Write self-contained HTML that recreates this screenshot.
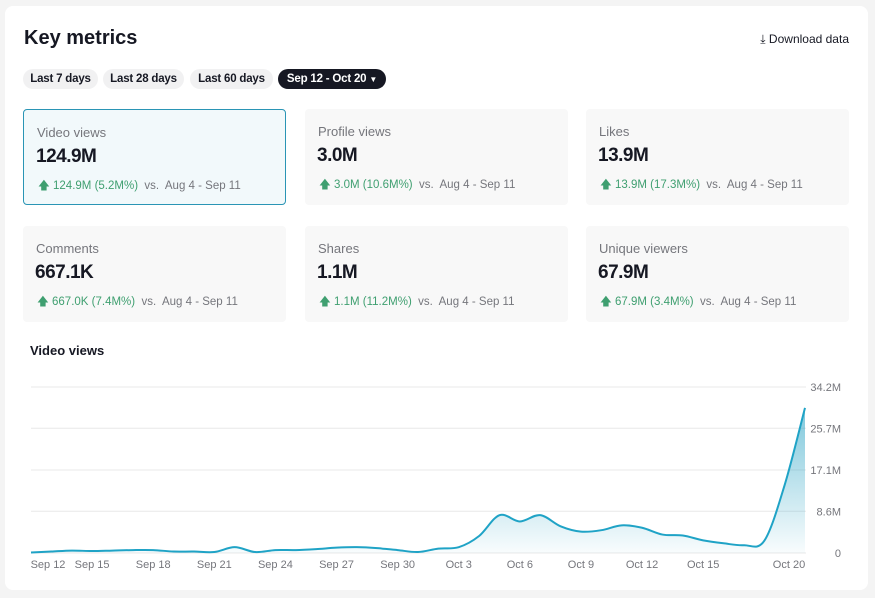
<!DOCTYPE html>
<html><head><meta charset="utf-8"><style>
body{margin:0;background:#f4f4f4;font-family:"Liberation Sans",sans-serif;width:875px;height:598px;overflow:hidden;position:relative}
.main{position:absolute;left:5px;top:6px;width:863px;height:584px;background:#fff;border-radius:8px}
h1{position:absolute;left:24px;top:27px;margin:0;font-size:20px;font-weight:bold;color:#161823}
.dl{position:absolute;right:26px;top:32px;font-size:12px;color:#161823}
.pill{position:absolute;top:69px;height:20px;line-height:20px;border-radius:10px;background:#f1f1f2;font-size:11.5px;font-weight:bold;color:#161823;text-align:center;letter-spacing:-0.2px}
.card{position:absolute;width:263px;height:96px;background:#f8f8f8;border-radius:4px;box-sizing:border-box}
.card.sel{background:#f2f9fb;border:1px solid #2a95b5}
.lab{position:absolute;left:13px;top:15px;font-size:13px;color:#75767c}
.val{position:absolute;left:12px;top:36px;font-size:19px;font-weight:bold;color:#161823;letter-spacing:-0.5px}
.chg{position:absolute;left:14px;top:68px;font-size:11.5px;color:#75767c}
.chg b{color:#3f9f70;font-weight:normal}
.ct{position:absolute;left:30px;top:343px;font-size:13px;font-weight:bold;color:#161823}
</style></head><body>
<div class="main"></div>
<h1>Key metrics</h1>
<div class="dl">⤓ Download data</div>
<div class="pill" style="left:23px;width:75px">Last 7 days</div>
<div class="pill" style="left:103px;width:81px">Last 28 days</div>
<div class="pill" style="left:190px;width:83px">Last 60 days</div>
<div class="pill" style="left:278px;width:108px;background:#161823;color:#fff">Sep 12 - Oct 20 <span style="font-size:8px">▼</span></div>

<div class="card sel" style="left:23px;top:109px"><div class="lab">Video views</div><div class="val">124.9M</div><div class="chg"><b>🡅 124.9M (5.2M%)</b>&nbsp; vs.&nbsp; Aug 4 - Sep 11</div></div>
<div class="card" style="left:305px;top:109px"><div class="lab">Profile views</div><div class="val">3.0M</div><div class="chg"><b>🡅 3.0M (10.6M%)</b>&nbsp; vs.&nbsp; Aug 4 - Sep 11</div></div>
<div class="card" style="left:586px;top:109px"><div class="lab">Likes</div><div class="val">13.9M</div><div class="chg"><b>🡅 13.9M (17.3M%)</b>&nbsp; vs.&nbsp; Aug 4 - Sep 11</div></div>
<div class="card" style="left:23px;top:226px"><div class="lab">Comments</div><div class="val">667.1K</div><div class="chg"><b>🡅 667.0K (7.4M%)</b>&nbsp; vs.&nbsp; Aug 4 - Sep 11</div></div>
<div class="card" style="left:305px;top:226px"><div class="lab">Shares</div><div class="val">1.1M</div><div class="chg"><b>🡅 1.1M (11.2M%)</b>&nbsp; vs.&nbsp; Aug 4 - Sep 11</div></div>
<div class="card" style="left:586px;top:226px"><div class="lab">Unique viewers</div><div class="val">67.9M</div><div class="chg"><b>🡅 67.9M (3.4M%)</b>&nbsp; vs.&nbsp; Aug 4 - Sep 11</div></div>

<div class="ct">Video views</div>
<svg id="chart" width="875" height="598" style="position:absolute;left:0;top:0">
<defs><linearGradient id="g" x1="0" y1="0" x2="0" y2="1"><stop offset="0" stop-color="#2aa3c4" stop-opacity="0.6"/><stop offset="1" stop-color="#2aa3c4" stop-opacity="0.03"/></linearGradient></defs>
</svg>
<script>
const values=[0.1,0.3,0.5,0.4,0.5,0.6,0.6,0.3,0.3,0.2,1.2,0.2,0.6,0.6,0.8,1.1,1.2,1.0,0.6,0.2,0.9,1.2,3.5,7.8,6.5,7.8,5.5,4.4,4.7,5.7,5.2,3.8,3.6,2.6,2.0,1.6,2.5,14,29.9];
const yTicks=[0,8.6,17.1,25.7,34.2];
const yTickLabels=["0","8.6M","17.1M","25.7M","34.2M"];
const xTickIdx=[0,3,6,9,12,15,18,21,24,27,30,33,38];
const xTickLabels=["Sep 12","Sep 15","Sep 18","Sep 21","Sep 24","Sep 27","Sep 30","Oct 3","Oct 6","Oct 9","Oct 12","Oct 15","Oct 20"];
const svg=document.getElementById('chart'),NS='http://www.w3.org/2000/svg';
const x0=31,x1=805,y0=553,y1=387,yMax=34.2;
const X=i=>x0+(x1-x0)*i/(values.length-1);
const Y=v=>y0-(y0-y1)*v/yMax;
function mk(t,a){const e=document.createElementNS(NS,t);for(const k in a)e.setAttribute(k,a[k]);svg.appendChild(e);return e;}
yTicks.forEach((t,i)=>{
 const l=mk('line',{x1:x0,x2:806,y1:Y(t),y2:Y(t),stroke:'#e8e8e8','stroke-width':1});
 
 
 const tx=mk('text',{x:841,y:Y(t)+4,'text-anchor':'end','font-size':11,fill:'#75767c','font-family':'Liberation Sans, sans-serif'});
 tx.textContent=yTickLabels[i];
 
 
});
xTickIdx.forEach((d,i)=>{
 let cx=X(d);if(i==0)cx=48;if(i==xTickIdx.length-1)cx=789;
 const tx=mk('text',{x:cx,y:568,'text-anchor':'middle','font-size':11,fill:'#75767c','font-family':'Liberation Sans, sans-serif'});
 tx.textContent=xTickLabels[i];
 
 
});
const pts=values.map((v,i)=>[X(i),Y(v)]);
let d='M'+pts[0][0]+','+pts[0][1];
for(let i=0;i<pts.length-1;i++){
 const p0=pts[i-1]||pts[i],p1=pts[i],p2=pts[i+1],p3=pts[i+2]||p2;
 const c1=[p1[0]+(p2[0]-p0[0])/6,p1[1]+(p2[1]-p0[1])/6],c2=[p2[0]-(p3[0]-p1[0])/6,p2[1]-(p3[1]-p1[1])/6];
 d+=` C${c1[0]},${Math.min(c1[1],y0)} ${c2[0]},${Math.min(c2[1],y0)} ${p2[0]},${p2[1]}`;
}
const area=mk('path',{d:d+` L${X(values.length-1)},${y0} L${x0},${y0} Z`,fill:'url(#g)'});


const line=mk('path',{d:d,fill:'none',stroke:'#1fa3c6','stroke-width':2});


</script>
</body></html>
